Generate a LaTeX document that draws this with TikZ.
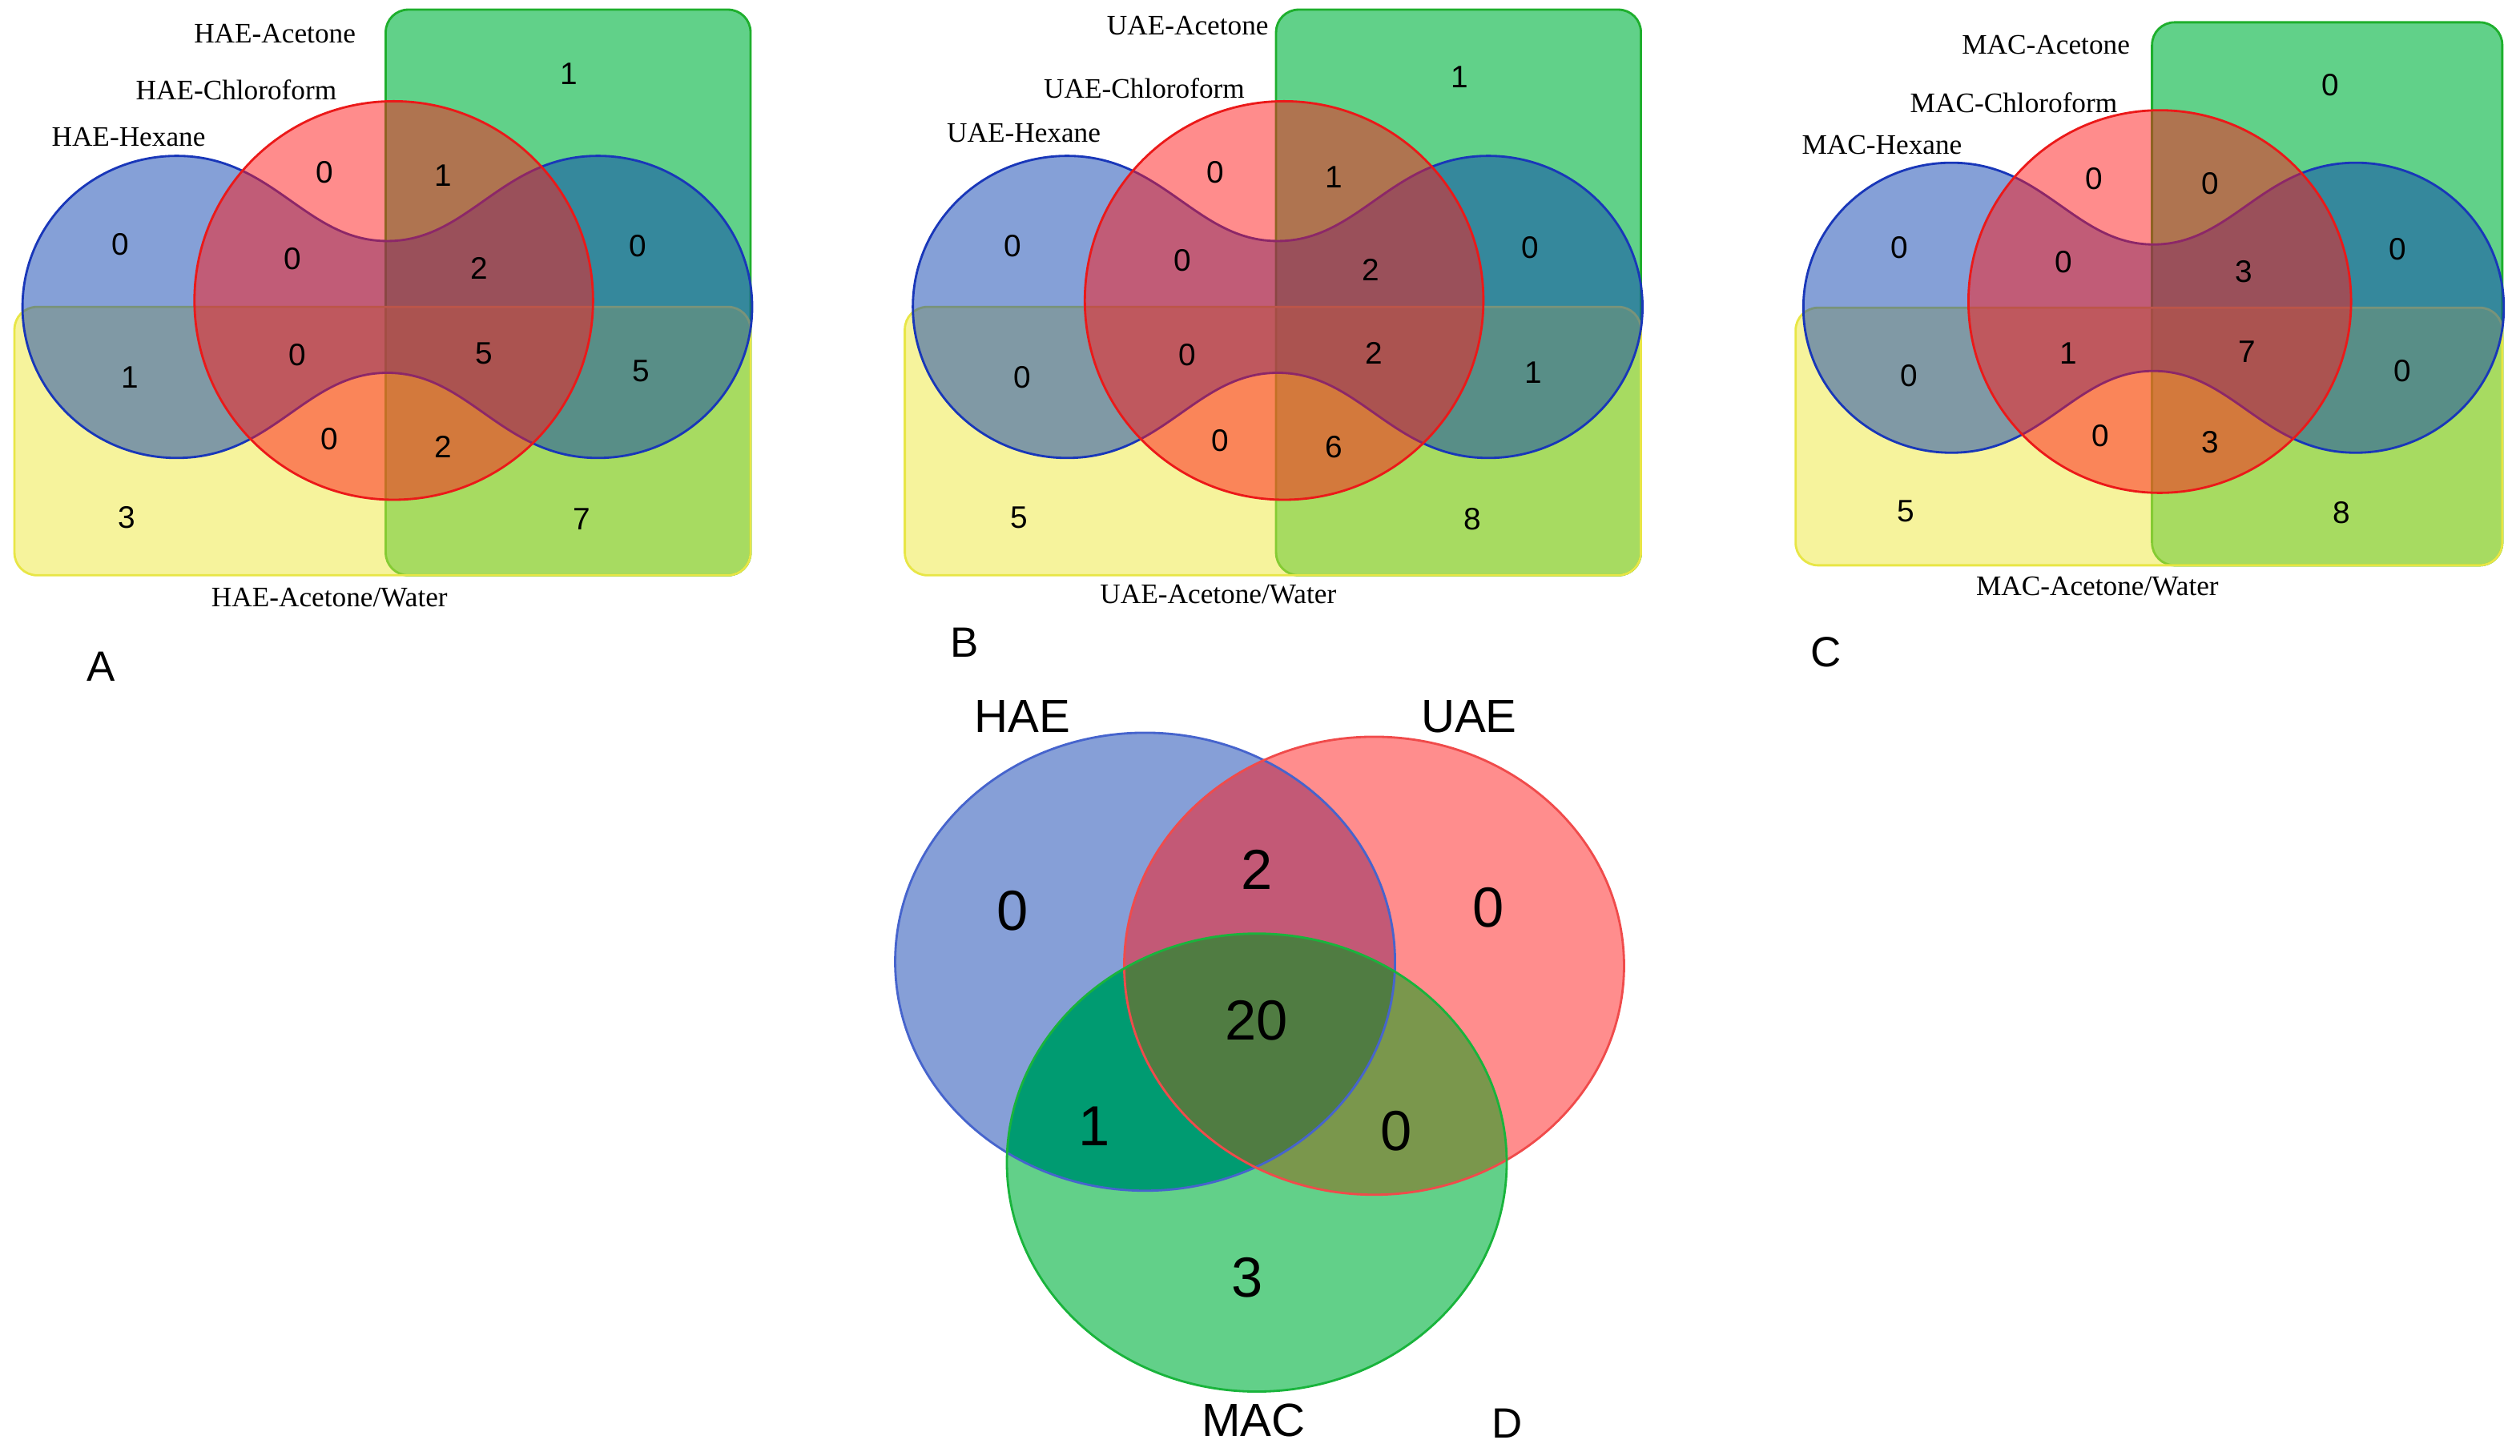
\documentclass[tikz,border=0pt]{standalone}
\usepackage{fontspec}
\setmainfont{Liberation Serif}
\setsansfont{Liberation Sans}

\definecolor{hexfill}{RGB}{11,65,175}
\definecolor{hexline}{RGB}{25,55,185}
\definecolor{chlfill}{RGB}{255,25,25}
\definecolor{chlline}{RGB}{235,25,25}
\definecolor{acefill}{RGB}{0,180,65}
\definecolor{aceline}{RGB}{30,175,45}
\definecolor{watfill}{RGB}{237,231,57}
\definecolor{watline}{RGB}{232,230,70}
% panel D
\definecolor{haeonly}{RGB}{134,159,215}
\definecolor{uaeonly}{RGB}{255,141,141}
\definecolor{maconly}{RGB}{98,208,137}
\definecolor{haeuae}{RGB}{195,89,118}
\definecolor{haemac}{RGB}{0,155,113}
\definecolor{uaemac}{RGB}{122,151,76}
\definecolor{allthree}{RGB}{80,124,66}
\definecolor{haeline}{RGB}{70,100,205}
\definecolor{uaeline}{RGB}{240,75,75}
\definecolor{macline}{RGB}{25,180,60}

\tikzset{
  setname/.style = {font=\fontsize{10}{12}\selectfont},
  cnt/.style = {font=\sffamily\fontsize{11}{13}\selectfont},
  bigcnt/.style = {font=\sffamily\fontsize{20}{24}\selectfont},
  method/.style = {font=\sffamily\fontsize{16.5}{20}\selectfont},
  panel/.style = {font=\sffamily\fontsize{15}{18}\selectfont},
  oval/.style = {x radius=155.5, y radius=142.5},
  venn4/.pic = {
    % acetone
    \draw[aceline, fill=acefill, fill opacity=0.62, line width=0.8pt, rounded corners=2.8mm]
      (-1,-185) rectangle (226,167);
    % acetone/water
    \draw[watline, fill=watfill, fill opacity=0.5, line width=0.8pt, rounded corners=2.8mm]
      (-232,0) rectangle (226,167);
    % hexane
    \draw[hexline, fill=hexfill, fill opacity=0.5, line width=0.8pt]
      (-131,-94) .. controls (-71,-94) and (-51,-41) .. (0,-41)
      .. controls (51,-41) and (71,-94) .. (131,-94)
      arc[start angle=-90, end angle=90, x radius=96, y radius=94]
      .. controls (71,94) and (51,41) .. (0,41)
      .. controls (-51,41) and (-71,94) .. (-131,94)
      arc[start angle=90, end angle=270, x radius=96, y radius=94] -- cycle;
    % chloroform
    \draw[chlline, fill=chlfill, fill opacity=0.5, line width=0.8pt]
      (4,-4) circle[radius=124];
  }
}

\begin{document}
\begin{tikzpicture}[x=0.2mm, y=-0.2mm]
  \useasboundingbox (0,0) rectangle (1568,906);

  % A
  \pic at (241,191) {venn4};
  \node[setname] (a-ace) at (171,21) {HAE-Acetone};
  \node[setname] (a-chl) at (147,56) {HAE-Chloroform};
  \node[setname] (a-hex) at (80,85) {HAE-Hexane};
  \node[setname] (a-wat) at (205,372) {HAE-Acetone/Water};
  \node[cnt] (a1) at (354,46) {1};
  \node[cnt] (a2) at (202,107) {0};
  \node[cnt] (a3) at (276,109) {1};
  \node[cnt] (a4) at (75,152) {0};
  \node[cnt] (a5) at (182,161) {0};
  \node[cnt] (a6) at (298,167) {2};
  \node[cnt] (a7) at (397,153) {0};
  \node[cnt] (a8) at (81,235) {1};
  \node[cnt] (a9) at (185,221) {0};
  \node[cnt] (a10) at (301,220) {5};
  \node[cnt] (a11) at (399,231) {5};
  \node[cnt] (a12) at (205,273) {0};
  \node[cnt] (a13) at (276,278) {2};
  \node[cnt] (a14) at (79,322) {3};
  \node[cnt] (a15) at (362,323) {7};
  \node[panel] (lblA) at (63,415) {A};

  % B
  \pic at (795,191) {venn4};
  \node[setname] (b-ace) at (739,16) {UAE-Acetone};
  \node[setname] (b-chl) at (712,55) {UAE-Chloroform};
  \node[setname] (b-hex) at (637,83) {UAE-Hexane};
  \node[setname] (b-wat) at (758,370) {UAE-Acetone/Water};
  \node[cnt] (b1) at (908,48) {1};
  \node[cnt] (b2) at (756,107) {0};
  \node[cnt] (b3) at (830,110) {1};
  \node[cnt] (b4) at (630,153) {0};
  \node[cnt] (b5) at (736,162) {0};
  \node[cnt] (b6) at (853,168) {2};
  \node[cnt] (b7) at (952,154) {0};
  \node[cnt] (b8) at (636,235) {0};
  \node[cnt] (b9) at (739,221) {0};
  \node[cnt] (b10) at (855,220) {2};
  \node[cnt] (b11) at (954,232) {1};
  \node[cnt] (b12) at (759,274) {0};
  \node[cnt] (b13) at (830,278) {6};
  \node[cnt] (b14) at (634,322) {5};
  \node[cnt] (b15) at (916,323) {8};
  \node[panel] (lblB) at (600,400) {B};

  % C
  \begin{scope}[shift={(1340,191.5)}, scale=0.96]
    \pic[transform shape] {venn4};
  \end{scope}
  \node[setname] (c-ace) at (1273,28) {MAC-Acetone};
  \node[setname] (c-chl) at (1253,64) {MAC-Chloroform};
  \node[setname] (c-hex) at (1171,90) {MAC-Hexane};
  \node[setname] (c-wat) at (1305,365) {MAC-Acetone/Water};
  \node[cnt] (c1) at (1450,53) {0};
  \node[cnt] (c2) at (1303,111) {0};
  \node[cnt] (c3) at (1375,114) {0};
  \node[cnt] (c4) at (1182,154) {0};
  \node[cnt] (c5) at (1284,163) {0};
  \node[cnt] (c6) at (1396,169) {3};
  \node[cnt] (c7) at (1492,155) {0};
  \node[cnt] (c8) at (1188,234) {0};
  \node[cnt] (c9) at (1287,220) {1};
  \node[cnt] (c10) at (1398,219) {7};
  \node[cnt] (c11) at (1495,231) {0};
  \node[cnt] (c12) at (1307,271) {0};
  \node[cnt] (c13) at (1375,275) {3};
  \node[cnt] (c14) at (1186,318) {5};
  \node[cnt] (c15) at (1457,319) {8};
  \node[panel] (lblC) at (1136,406) {C};

  % D
  \coordinate (hae) at (712.5,598.5);
  \coordinate (uae) at (855,601);
  \coordinate (mac) at (782,723.5);
  \fill[haeonly] (hae) ellipse[oval];
  \fill[uaeonly] (uae) ellipse[oval];
  \fill[maconly] (mac) ellipse[oval];
  \begin{scope}
    \clip (uae) ellipse[oval];
    \fill[uaemac] (mac) ellipse[oval];
  \end{scope}
  \begin{scope}
    \clip (hae) ellipse[oval];
    \fill[haeuae] (uae) ellipse[oval];
    \fill[haemac] (mac) ellipse[oval];
    \clip (uae) ellipse[oval];
    \fill[allthree] (mac) ellipse[oval];
  \end{scope}
  \draw[haeline, line width=0.8pt] (hae) ellipse[oval];
  \draw[uaeline, line width=0.8pt] (uae) ellipse[oval];
  \draw[macline, line width=0.8pt] (mac) ellipse[oval];
  \node[method] (d-hae) at (636,446) {HAE};
  \node[method] (d-uae) at (914,446) {UAE};
  \node[method] (d-mac) at (780,884) {MAC};
  \node[bigcnt] (d1) at (630,567) {0};
  \node[bigcnt] (d2) at (782,541) {2};
  \node[bigcnt] (d3) at (926,565) {0};
  \node[bigcnt] (d4) at (782,635) {20};
  \node[bigcnt] (d5) at (681,701) {1};
  \node[bigcnt] (d6) at (869,704) {0};
  \node[bigcnt] (d7) at (776,795) {3};
  \node[panel] (lblD) at (938,886) {D};
\end{tikzpicture}
\end{document}
